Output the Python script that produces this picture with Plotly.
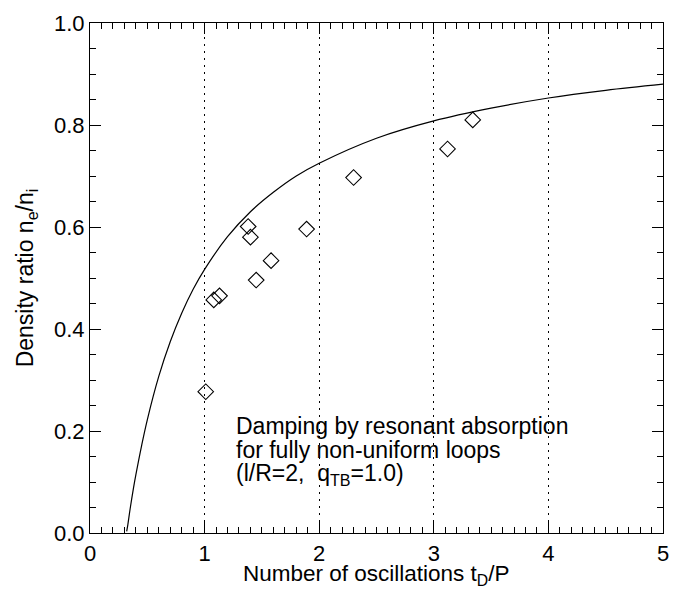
import plotly.graph_objects as go

# Theoretical curve: density ratio vs. damping time in oscillation periods
curve_x = [0.32, 0.33, 0.35, 0.38, 0.40, 0.45, 0.50, 0.60, 0.70, 0.80, 0.90, 1.00,
           1.20, 1.40, 1.60, 1.80, 2.00, 2.50, 3.00, 3.50, 4.00, 4.50, 5.00]
curve_y = [0.003, 0.016, 0.047, 0.089, 0.114, 0.171, 0.222, 0.307, 0.375, 0.431, 0.478, 0.517,
           0.581, 0.630, 0.668, 0.700, 0.725, 0.774, 0.808, 0.833, 0.853, 0.868, 0.880]

# Observed loops
obs_x = [1.01, 1.08, 1.13, 1.38, 1.40, 1.45, 1.58, 1.89, 2.30, 3.12, 3.34]
obs_y = [0.277, 0.457, 0.465, 0.601, 0.580, 0.496, 0.534, 0.596, 0.697, 0.753, 0.810]

x_ticks = [0, 1, 2, 3, 4, 5]
y_ticks = [0.0, 0.2, 0.4, 0.6, 0.8, 1.0]

note_lines = ["Damping by resonant absorption",
              "for fully non-uniform loops",
              "(l/R=2,\u00a0 q<sub>TB</sub>=1.0)"]
note_y = [0.209, 0.162, 0.115]

FONT = "Liberation Sans, Arial, Helvetica, sans-serif"

fig = go.Figure()
fig.add_trace(go.Scatter(x=curve_x, y=curve_y, mode="lines",
                         line=dict(color="black", width=1.2, shape="spline"),
                         showlegend=False, hoverinfo="skip"))
fig.add_trace(go.Scatter(x=obs_x, y=obs_y, mode="markers",
                         marker=dict(symbol="diamond-open", size=12, color="black",
                                     line=dict(width=1.1, color="black")),
                         showlegend=False))

for line, yv in zip(note_lines, note_y):
    fig.add_annotation(x=1.255, y=yv, xref="x", yref="y", xanchor="left", yanchor="middle",
                       align="left", showarrow=False, text=line,
                       font=dict(family=FONT, size=23, color="black"))

# x-axis title placed just below the tick labels
fig.add_annotation(x=0.5, y=-0.083, xref="paper", yref="paper", xanchor="center",
                   yanchor="middle", showarrow=False,
                   text="Number of oscillations t<sub>D</sub>/P",
                   font=dict(family=FONT, size=22.5, color="black"))

axis_common = dict(showline=True, linecolor="black", linewidth=1.2, mirror="ticks",
                   ticks="inside", ticklen=11, tickwidth=1, tickcolor="black",
                   zeroline=False, ticklabeloverflow="allow",
                   tickfont=dict(family=FONT, size=22, color="black"))

fig.update_xaxes(range=[0, 5], tickvals=x_ticks, ticktext=[str(v) for v in x_ticks],
                 showgrid=True, gridcolor="black", gridwidth=1, griddash="2px,5px",
                 minor=dict(dtick=0.1, ticks="inside", ticklen=6, tickcolor="black",
                            showgrid=False),
                 **axis_common)
fig.update_yaxes(range=[0, 1], tickvals=y_ticks, ticktext=[f"{v:.1f}" for v in y_ticks],
                 showgrid=False,
                 minor=dict(dtick=0.05, ticks="inside", ticklen=6, tickcolor="black",
                            showgrid=False),
                 title=dict(text="Density ratio n<sub>e</sub>/n<sub>i</sub>",
                            font=dict(family=FONT, size=23, color="black"), standoff=13),
                 **axis_common)

fig.update_layout(width=694, height=597, margin=dict(l=90, r=31, t=11, b=64),
                  plot_bgcolor="white", paper_bgcolor="white")

fig.write_html("out.html")
